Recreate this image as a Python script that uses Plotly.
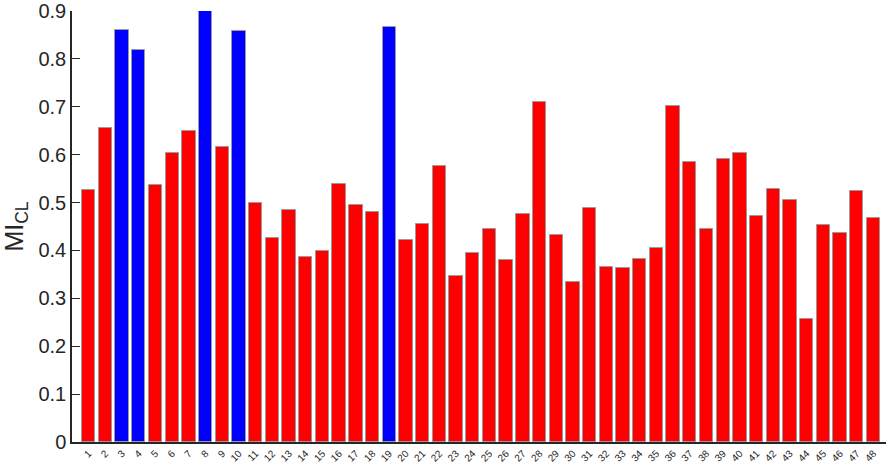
import plotly.graph_objects as go

categories = list(range(1, 49))
values = [0.527, 0.656, 0.861, 0.818, 0.537, 0.604, 0.649, 0.900, 0.617, 0.858,
          0.500, 0.427, 0.485, 0.387, 0.399, 0.538, 0.495, 0.481, 0.867, 0.421,
          0.456, 0.577, 0.347, 0.395, 0.445, 0.380, 0.477, 0.710, 0.432, 0.335,
          0.488, 0.365, 0.363, 0.383, 0.405, 0.701, 0.584, 0.444, 0.591, 0.603,
          0.471, 0.528, 0.505, 0.256, 0.454, 0.436, 0.524, 0.467]
highlighted = [3, 4, 8, 10, 19]
y_ticks = [0, 0.1, 0.2, 0.3, 0.4, 0.5, 0.6, 0.7, 0.8, 0.9]
y_tick_labels = ["0", "0.1", "0.2", "0.3", "0.4", "0.5", "0.6", "0.7", "0.8", "0.9"]

colors = ["#0000ff" if c in highlighted else "#ff0000" for c in categories]

fig = go.Figure(go.Bar(
    x=categories, y=values, width=0.8,
    marker=dict(color=colors, line=dict(color="#9a9a9a", width=1)),
    cliponaxis=False,
))

fig.update_layout(
    width=886, height=464,
    margin=dict(l=72, r=0, t=11, b=22, autoexpand=False),
    plot_bgcolor="white", paper_bgcolor="white",
    showlegend=False,
    font=dict(family="Liberation Sans, Arial, sans-serif", color="#262626"),
    bargap=0,
)
fig.update_xaxes(
    range=[0, 48.75], tickmode="array", tickvals=categories,
    ticktext=[str(c) for c in categories], tickangle=-45,
    tickfont=dict(size=10, color="#262626"),
    showline=True, linecolor="#262626", linewidth=1.5,
    ticks="", showgrid=False, zeroline=False, automargin=False,
    ticklabeloverflow="allow",
)
fig.update_yaxes(
    range=[0, 0.9], tickmode="array", tickvals=y_ticks, ticktext=y_tick_labels,
    tickfont=dict(size=20, color="#262626"),
    showline=True, linecolor="#262626", linewidth=1.5,
    ticks="inside", ticklen=8, tickcolor="#262626", tickwidth=1.2,
    showgrid=False, zeroline=False, automargin=False,
    ticklabeloverflow="allow",
    title=dict(text="MI<sub>CL</sub>", font=dict(size=25, color="#262626"), standoff=9),
)

fig.write_html("out.html", config={"displayModeBar": False},
               post_script="document.body.style.margin='0';document.body.style.overflow='hidden';")
